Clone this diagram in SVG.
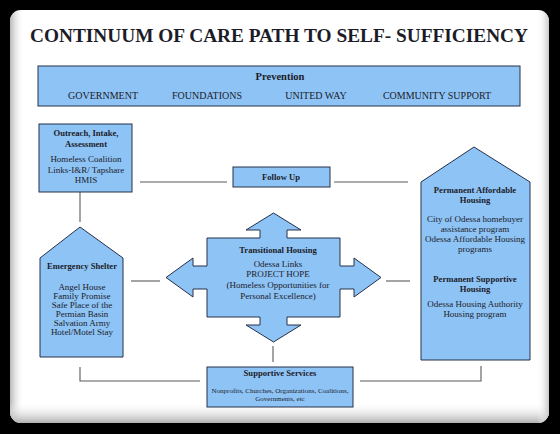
<svg xmlns="http://www.w3.org/2000/svg" width="560" height="434" viewBox="0 0 560 434">
<defs>
<linearGradient id="gl" x1="0" y1="0" x2="1" y2="0"><stop offset="0" stop-color="#b8b8b8"/><stop offset="1" stop-color="#ffffff" stop-opacity="0"/></linearGradient>
<linearGradient id="gb" x1="0" y1="0" x2="0" y2="1"><stop offset="0" stop-color="#ffffff" stop-opacity="0"/><stop offset="1" stop-color="#b0b0b0"/></linearGradient>
<linearGradient id="gr" x1="0" y1="0" x2="1" y2="0"><stop offset="0" stop-color="#ffffff" stop-opacity="0"/><stop offset="1" stop-color="#c8c8c8"/></linearGradient>
<clipPath id="card"><rect x="10" y="10" width="539" height="413" rx="11"/></clipPath>
</defs>
<style>
.box{fill:#8ec3f6;stroke:#26304a;stroke-width:1}
.ln{fill:none;stroke:#5a5a5a;stroke-width:1.1}
text{font-family:"Liberation Serif","Times New Roman",serif;fill:#1c1c28;text-anchor:middle}
.b{font-weight:bold}
.t{font-size:9px}
.h{font-size:8.6px;font-weight:bold}
</style>
<rect width="560" height="434" fill="#000"/>
<rect x="10" y="10" width="539" height="413" rx="11" fill="#fff"/>
<g clip-path="url(#card)">
<rect x="10" y="10" width="14" height="413" fill="url(#gl)"/>
<rect x="10" y="402" width="539" height="21" fill="url(#gb)"/>
<rect x="537" y="10" width="12" height="413" fill="url(#gr)"/>
</g>
<text x="279" y="42" class="b" font-size="19" textLength="498" lengthAdjust="spacingAndGlyphs">CONTINUUM OF CARE PATH TO SELF- SUFFICIENCY</text>

<g id="connectors">
<line class="ln" x1="80" y1="192" x2="80" y2="222"/>
<line class="ln" x1="140" y1="182" x2="227" y2="182"/>
<line class="ln" x1="334" y1="182" x2="408" y2="182"/>
<line class="ln" x1="131" y1="281" x2="160" y2="281"/>
<line class="ln" x1="386" y1="281" x2="410" y2="281"/>
<line class="ln" x1="273" y1="346" x2="273" y2="362"/>
<polyline class="ln" points="80,367 80,381 200,381"/>
<polyline class="ln" points="360,381 481,381 481,366"/>
</g>

<g id="prevention">
<rect class="box" x="38" y="66" width="482" height="40"/>
<text x="280" y="80" class="b" font-size="10.5">Prevention</text>
<text x="103" y="99" font-size="10">GOVERNMENT</text>
<text x="207" y="99" font-size="10">FOUNDATIONS</text>
<text x="316" y="99" font-size="10">UNITED WAY</text>
<text x="437" y="99" font-size="10">COMMUNITY SUPPORT</text>
</g>

<g id="outreach">
<rect class="box" x="39" y="124" width="93" height="68"/>
<text x="86" y="136" class="h" font-size="9.2">Outreach, Intake,</text>
<text x="86" y="147" class="h" font-size="9.2">Assessment</text>
<text x="86" y="162" class="t" font-size="9.4">Homeless Coalition</text>
<text x="86" y="173" class="t" font-size="9.4">Links-I&amp;R/ Tapshare</text>
<text x="86" y="183" class="t" font-size="9.4">HMIS</text>
</g>

<g id="followup">
<rect class="box" x="233" y="167" width="97" height="20"/>
<text x="281" y="180" class="h">Follow Up</text>
</g>

<g id="emergency">
<path class="box" d="M40,258 L80,227 L123,258 L123,357 L40,357 Z"/>
<text x="82" y="269" class="h" font-size="9">Emergency Shelter</text>
<text x="82" y="290" class="t">Angel House</text>
<text x="82" y="299" class="t">Family Promise</text>
<text x="82" y="308" class="t">Safe Place of the</text>
<text x="82" y="317" class="t">Permian Basin</text>
<text x="82" y="326" class="t">Salvation Army</text>
<text x="82" y="335" class="t">Hotel/Motel Stay</text>
</g>

<g id="transitional">
<path class="box" d="M207,238 L260,238 L260,230 L246,230 L273.5,213 L301,230 L287,230 L287,238 L340,238 L340,266 L354,266 L354,258 L381,277.5 L354,297 L354,289 L340,289 L340,317 L287,317 L287,325 L301,325 L273.5,342 L246,325 L260,325 L260,317 L207,317 L207,289 L193,289 L193,297 L166,277.5 L193,258 L193,266 L207,266 Z"/>
<text x="278" y="253" class="h">Transitional Housing</text>
<text x="278" y="267" class="t" font-size="8.2">Odessa Links</text>
<text x="278" y="277" class="t" font-size="8.2">PROJECT HOPE</text>
<text x="278" y="288" class="t" font-size="8.2">(Homeless Opportunities for</text>
<text x="278" y="299" class="t" font-size="8.2">Personal Excellence)</text>
</g>

<g id="permanent">
<path class="box" d="M421,182 L474,147 L530,182 L530,360 L421,360 Z"/>
<text x="475" y="193" class="h" font-size="8.9">Permanent Affordable</text>
<text x="475" y="203" class="h" font-size="8.9">Housing</text>
<text x="475" y="222" class="t">City of Odessa homebuyer</text>
<text x="475" y="232" class="t">assistance program</text>
<text x="475" y="242" class="t">Odessa Affordable Housing</text>
<text x="475" y="252" class="t">programs</text>
<text x="475" y="282" class="h" font-size="8.9">Permanent Supportive</text>
<text x="475" y="292" class="h" font-size="8.9">Housing</text>
<text x="475" y="307" class="t">Odessa Housing Authority</text>
<text x="475" y="317" class="t">Housing program</text>
</g>

<g id="supportive">
<rect class="box" x="207" y="367" width="146" height="40"/>
<text x="280" y="376" class="h">Supportive Services</text>
<text x="280" y="393" font-size="7">Nonprofits, Churches, Organizations, Coalitions,</text>
<text x="280" y="401" font-size="7">Governments, etc</text>
</g>
</svg>
